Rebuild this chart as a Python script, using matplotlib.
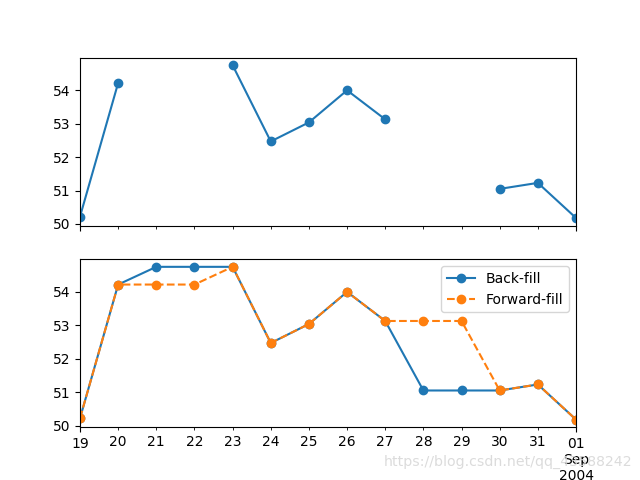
import matplotlib
matplotlib.use("Agg")
import matplotlib.pyplot as plt
import numpy as np
import pandas as pd

dates = pd.date_range("2004-08-19", "2004-09-01", freq="D")
values = [50.22, 54.22, np.nan, np.nan, 54.75, 52.47, 53.04, 54.00, 53.13,
          np.nan, np.nan, 51.05, 51.23, 50.18]

ts = pd.Series(values, index=dates)

fig, axes = plt.subplots(2, 1, sharex=True, figsize=(6.4, 4.8), dpi=100)
ts.plot(ax=axes[0], marker="o")
ts.bfill().plot(ax=axes[1], marker="o", label="Back-fill")
ts.ffill().plot(ax=axes[1], marker="o", linestyle="--", label="Forward-fill")
axes[1].legend()

fig.text(0.988, 0.037, "https://blog.csdn.net/qq_43588242", ha="right", va="center",
         fontsize=10.2, color="#d8d8d8", alpha=0.9)

fig.savefig("out.png", dpi=100)
